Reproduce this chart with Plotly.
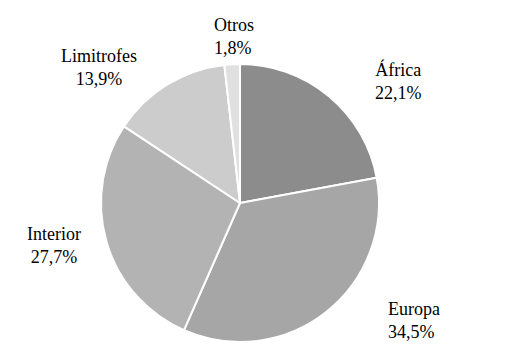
import plotly.graph_objects as go

categories = ["África", "Europa", "Interior", "Limitrofes", "Otros"]
values = [22.1, 34.5, 27.7, 13.9, 1.8]
value_labels = ["22,1%", "34,5%", "27,7%", "13,9%", "1,8%"]

colors = ["#8c8c8c", "#a6a6a6", "#b3b3b3", "#cccccc", "#e0e0e0"]
# label anchor positions (paper coords) and alignment
label_pos = [(398, 81, "center"), (386, 320, "left"), (54, 245, "center"),
             (99, 67, "center"), (212, 36, "left")]

W, H = 511, 353
fig = go.Figure(go.Pie(
    labels=categories, values=values, sort=False, direction="clockwise",
    rotation=0, textinfo="none", hoverinfo="label+percent",
    marker=dict(colors=colors, line=dict(color="white", width=2)),
    domain=dict(x=[101 / W, 379 / W], y=[11 / H, 289 / H]),
    showlegend=False,
))

for cat, vl, (px, py, al) in zip(categories, value_labels, label_pos):
    fig.add_annotation(
        x=px / W, y=1 - py / H, xref="paper", yref="paper",
        text=f"{cat}<br>{vl}", showarrow=False, align=al,
        xanchor="left" if al == "left" else "center", yanchor="middle",
        font=dict(family="Liberation Serif, DejaVu Serif", size=18, color="black"),
    )

fig.update_layout(width=W, height=H, margin=dict(l=0, r=0, t=0, b=0),
                  paper_bgcolor="white", plot_bgcolor="white")
fig.write_html("out.html")
